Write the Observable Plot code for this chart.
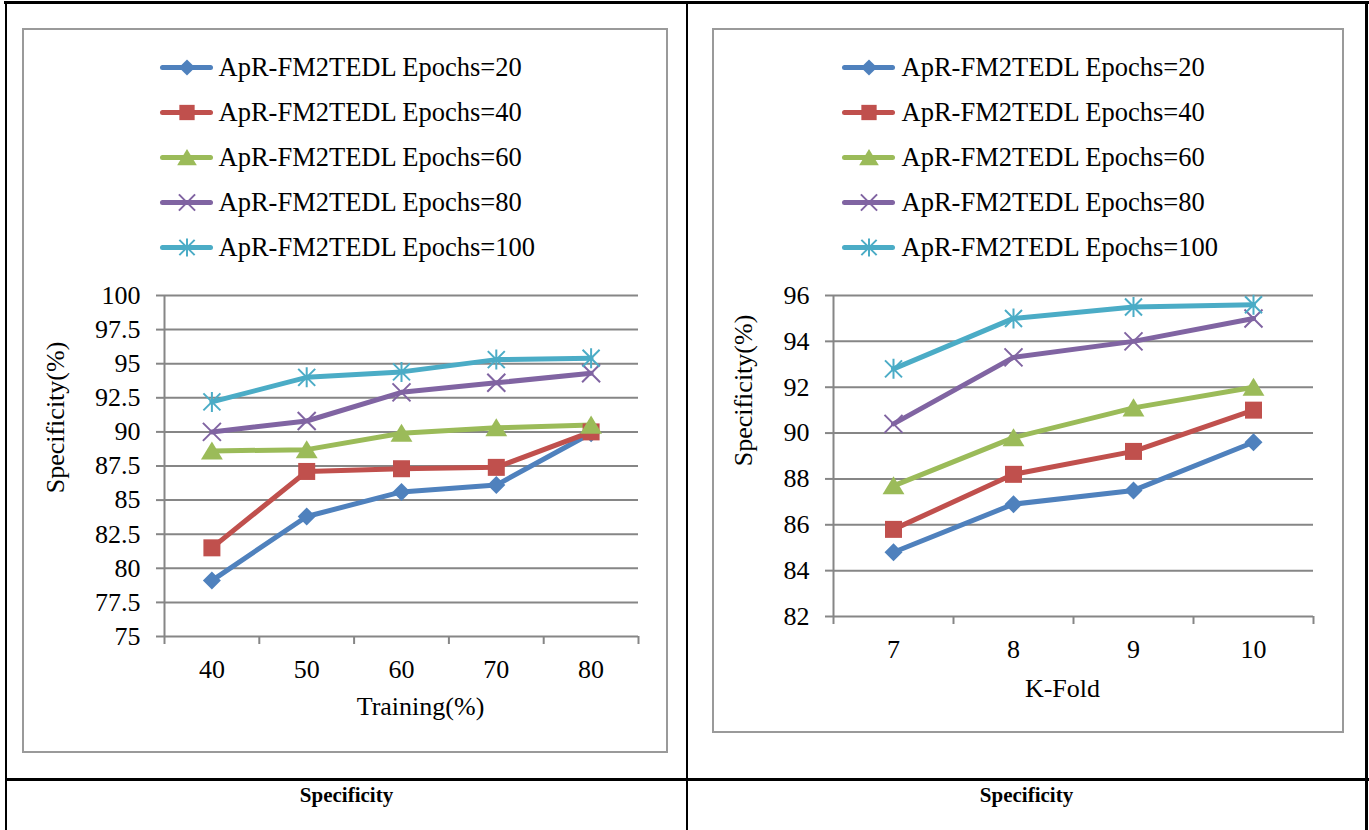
<!DOCTYPE html>
<html>
<head>
<meta charset="utf-8">
<script src="https://cdn.jsdelivr.net/npm/d3@7"></script>
<script src="https://cdn.jsdelivr.net/npm/@observablehq/plot@0.6"></script>
<style>
  body { margin: 0; background: #fff; }
  #page { position: relative; width: 1369px; height: 830px; overflow: hidden; background: #fff;
          font-family: "Liberation Serif", "Times New Roman", serif; }
  .rule { position: absolute; background: #000; }
  .box { position: absolute; border: 2px solid #9a9a9a; box-sizing: border-box; }
  .caption { position: absolute; font-weight: bold; font-size: 21px; text-align: center; line-height: 21px; }
  .abs { position: absolute; }
  .abs svg { overflow: visible; }
</style>
</head>
<body>
<div id="page">
  <!-- table frame -->
  <div class="rule" style="left:4px; top:1px; width:1365px; height:3px;"></div>
  <div class="rule" style="left:5px; top:1px; width:2px; height:829px;"></div>
  <div class="rule" style="left:686px; top:1px; width:2px; height:829px;"></div>
  <div class="rule" style="left:1365px; top:1px; width:3px; height:829px;"></div>
  <div class="rule" style="left:5px; top:778px; width:1364px; height:3px;"></div>

  <!-- chart areas -->
  <div class="box" style="left:22px; top:28px; width:646px; height:725px;"></div>
  <div class="box" style="left:712px; top:28px; width:632px; height:705px;"></div>

  <div class="abs" id="legendLeft" style="left:150px; top:40px;"></div>
  <div class="abs" id="legendRight" style="left:832px; top:40px;"></div>
  <div class="abs" id="chartLeft" style="left:22px; top:270px;"></div>
  <div class="abs" id="chartRight" style="left:712px; top:270px;"></div>

  <div class="caption" style="left:7px; width:679px; top:785px;">Specificity</div>
  <div class="caption" style="left:688px; width:677px; top:785px;">Specificity</div>
</div>
<script>
// Series shared by both charts
const seriesNames = [
  "ApR-FM2TEDL Epochs=20",
  "ApR-FM2TEDL Epochs=40",
  "ApR-FM2TEDL Epochs=60",
  "ApR-FM2TEDL Epochs=80",
  "ApR-FM2TEDL Epochs=100"
];
const seriesColors = ["#4F81BD", "#C0504D", "#9BBB59", "#8064A2", "#4BACC6"];

// Specificity (%) by training share
const trainingPct = [40, 50, 60, 70, 80];
const trainEpochs20 = [79.1, 83.8, 85.6, 86.1, 89.9];
const trainEpochs40 = [81.5, 87.1, 87.3, 87.4, 90.0];
const trainEpochs60 = [88.6, 88.7, 89.9, 90.3, 90.5];
const trainEpochs80 = [90.0, 90.8, 92.9, 93.6, 94.3];
const trainEpochs100 = [92.2, 94.0, 94.4, 95.3, 95.4];
const trainTicks = [75, 77.5, 80, 82.5, 85, 87.5, 90, 92.5, 95, 97.5, 100];

// Specificity (%) by number of folds
const kFolds = [7, 8, 9, 10];
const foldEpochs20 = [84.8, 86.9, 87.5, 89.6];
const foldEpochs40 = [85.8, 88.2, 89.2, 91.0];
const foldEpochs60 = [87.7, 89.8, 91.1, 92.0];
const foldEpochs80 = [90.4, 93.3, 94.0, 95.0];
const foldEpochs100 = [92.8, 95.0, 95.5, 95.6];
const foldTicks = [82, 84, 86, 88, 90, 92, 94, 96];

// Spreadsheet-style marker shapes; h is the half-size in pixels.
function shape(draw) {
  return { draw(ctx, size) { draw(ctx, Math.sqrt(size / Math.PI)); } };
}
const markerShapes = [
  shape((c, h) => { c.moveTo(0, -h); c.lineTo(h, 0); c.lineTo(0, h); c.lineTo(-h, 0); c.closePath(); }),
  shape((c, h) => { c.rect(-h, -h, 2 * h, 2 * h); }),
  shape((c, h) => { c.moveTo(0, -h); c.lineTo(1.15 * h, 0.9 * h); c.lineTo(-1.15 * h, 0.9 * h); c.closePath(); }),
  shape((c, h) => { c.moveTo(-h, -h); c.lineTo(h, h); c.moveTo(-h, h); c.lineTo(h, -h); }),
  shape((c, h) => {
    const k = 0.85 * h;
    c.moveTo(-k, -k); c.lineTo(k, k); c.moveTo(-k, k); c.lineTo(k, -k);
    c.moveTo(0, -h); c.lineTo(0, h);
  })
];
const markerFilled = [true, true, true, false, false];
const markerHalf = [9, 8.5, 9.5, 9, 10];

const fontFamily = "'Liberation Serif', 'Times New Roman', serif";
const grey = "#868686";

function markerDot(data, i, opts, scale = 1) {
  return Plot.dot(data, {
    ...opts,
    symbol: markerShapes[i],
    r: markerHalf[i] * scale,
    fill: markerFilled[i] ? seriesColors[i] : "none",
    stroke: markerFilled[i] ? "none" : seriesColors[i],
    strokeWidth: 2
  });
}

function legend(textDx) {
  return Plot.plot({
    width: 430, height: 235, margin: 0,
    x: { domain: [0, 1], range: [12.5, 60.5], axis: null },
    y: { type: "point", domain: seriesNames, range: [27, 207], padding: 0, axis: null },
    color: { domain: seriesNames, range: seriesColors },
    style: { fontFamily, fontSize: "26.5px", background: "transparent", color: "#000" },
    marks: [
      Plot.ruleY(seriesNames, { y: d => d, x1: 0, x2: 1, stroke: d => d, strokeWidth: 5, strokeLinecap: "round" }),
      ...seriesNames.map((name, i) => markerDot([name], i, { x: 0.5, y: d => d }, 0.9)),
      Plot.text(seriesNames, { x: 1, y: d => d, text: d => d, textAnchor: "start", dx: textDx, fill: "#000", fontSize: 26.5 })
    ]
  });
}

function chart(cfg) {
  const rows = cfg.series.flatMap((vals, i) =>
    cfg.cats.map((c, j) => ({ series: seriesNames[i], x: c, y: vals[j] })));
  const step = cfg.cats[1] - cfg.cats[0];
  const bounds = [...cfg.cats.map(c => c - step / 2), cfg.cats[cfg.cats.length - 1] + step / 2];
  return Plot.plot({
    width: cfg.width, height: cfg.height,
    marginLeft: cfg.marginLeft, marginRight: cfg.marginRight,
    marginTop: cfg.marginTop, marginBottom: cfg.marginBottom,
    x: { domain: [bounds[0], bounds[bounds.length - 1]] },
    y: { domain: [cfg.ticks[0], cfg.ticks[cfg.ticks.length - 1]] },
    color: { domain: seriesNames, range: seriesColors },
    style: { fontFamily, fontSize: "26px", background: "transparent", color: "#000" },
    marks: [
      Plot.gridY(cfg.ticks, { stroke: grey, strokeOpacity: 1, strokeWidth: 2 }),
      Plot.ruleX([bounds[0]], { stroke: grey, strokeWidth: 2 }),
      Plot.axisY(cfg.ticks, { tickSize: 8, tickPadding: 16, stroke: grey, strokeWidth: 2, fill: "#000",
                              label: null, tickFormat: d => String(d) }),
      Plot.axisX(bounds, { tickSize: 8, stroke: grey, strokeWidth: 2, fill: "none", label: null }),
      Plot.axisX(cfg.cats, { tickSize: 0, tickPadding: 23, fill: "#000", label: null, tickFormat: d => String(d) }),
      Plot.line(rows, { x: "x", y: "y", z: "series", stroke: "series", strokeWidth: 5 }),
      ...seriesNames.map((name, i) => markerDot(rows.filter(d => d.series === name), i, { x: "x", y: "y" })),
      Plot.text([cfg.yLabel], { frameAnchor: "left", text: d => d, rotate: -90, textAnchor: "middle",
                                lineAnchor: "middle", dx: cfg.yLabelDx, dy: cfg.yLabelDy, fill: "#000", fontSize: 26 }),
      Plot.text([cfg.xLabel], { frameAnchor: "bottom", text: d => d, textAnchor: "middle",
                                lineAnchor: "middle", dx: cfg.xLabelDx, dy: cfg.xLabelDy, fill: "#000", fontSize: 26 })
    ]
  });
}

document.getElementById("legendLeft").append(legend(7.5));
document.getElementById("legendRight").append(legend(8.5));

document.getElementById("chartLeft").append(chart({
  cats: trainingPct,
  series: [trainEpochs20, trainEpochs40, trainEpochs60, trainEpochs80, trainEpochs100],
  ticks: trainTicks,
  width: 646, height: 482, marginLeft: 142, marginRight: 30, marginTop: 25, marginBottom: 116,
  yLabel: "Specificity(%)", yLabelDx: -109, yLabelDy: -48.5,
  xLabel: "Training(%)", xLabelDx: 19, xLabelDy: 70
}));

document.getElementById("chartRight").append(chart({
  cats: kFolds,
  series: [foldEpochs20, foldEpochs40, foldEpochs60, foldEpochs80, foldEpochs100],
  ticks: foldTicks,
  width: 631, height: 462, marginLeft: 121, marginRight: 30, marginTop: 25, marginBottom: 116,
  yLabel: "Specificity(%)", yLabelDx: -90, yLabelDy: -65.5,
  xLabel: "K-Fold", xLabelDx: -11, xLabelDy: 72
}));
</script>
</body>
</html>
